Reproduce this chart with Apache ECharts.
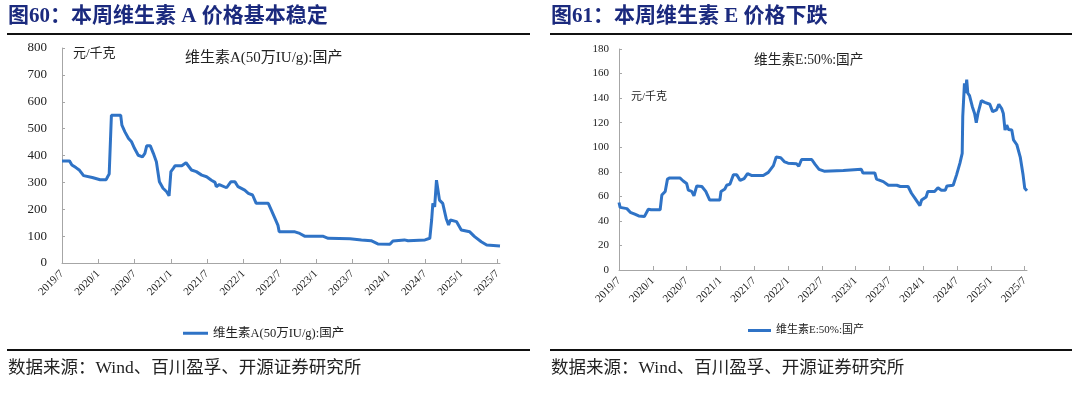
<!DOCTYPE html>
<html>
<head>
<meta charset="utf-8">
<script src="https://cdn.jsdelivr.net/npm/echarts@6/dist/echarts.min.js"></script>
<style>
html,body{margin:0;padding:0;background:#fff;}
#c{width:1080px;height:396px;}
</style>
</head>
<body>
<div id="c"></div>
<script>
// ---- Data ----
const titleA = '图60：本周维生素 A 价格基本稳定';
const titleE = '图61：本周维生素 E 价格下跌';
const seriesNameA = '维生素A(50万IU/g):国产';
const seriesNameE = '维生素E:50%:国产';
const unitLabel = '元/千克';
const sourceText = '数据来源：Wind、百川盈孚、开源证券研究所';
const xTickLabels = ['2019/7','2020/1','2020/7','2021/1','2021/7','2022/1','2022/7','2023/1','2023/7','2024/1','2024/7','2025/1','2025/7'];

const vaDates = ['2019-07-01','2019-08-08','2019-08-20','2019-09-10','2019-09-28','2019-10-18','2019-10-25','2019-12-01','2020-01-10','2020-02-10','2020-02-18','2020-02-25','2020-03-03','2020-03-06','2020-04-22','2020-04-28','2020-05-13','2020-06-01','2020-06-16','2020-07-01','2020-07-19','2020-08-10','2020-08-22','2020-09-01','2020-09-19','2020-10-04','2020-10-19','2020-11-04','2020-11-22','2020-12-10','2020-12-22','2021-01-01','2021-01-13','2021-01-22','2021-02-25','2021-03-16','2021-03-25','2021-04-13','2021-05-07','2021-06-04','2021-06-28','2021-07-22','2021-08-10','2021-08-16','2021-09-01','2021-10-07','2021-10-28','2021-11-19','2021-12-04','2022-01-07','2022-01-25','2022-02-16','2022-03-04','2022-05-04','2022-05-19','2022-06-07','2022-06-22','2022-06-28','2022-09-16','2022-10-10','2022-11-04','2023-02-04','2023-03-01','2023-06-19','2023-08-16','2023-10-04','2023-11-07','2024-01-07','2024-01-22','2024-03-19','2024-04-07','2024-07-01','2024-07-25','2024-08-04','2024-08-10','2024-08-19','2024-08-28','2024-09-04','2024-09-13','2024-09-29','2024-10-16','2024-10-28','2024-11-07','2024-12-07','2025-01-01','2025-02-13','2025-03-07','2025-04-10','2025-05-07','2025-07-13'];
const vaValues = [380,380,365,355,345,325,322,318,310,310,322,331,331,550,550,513,488,463,451,426,401,395,408,436,436,408,377,302,278,265,250,340,352,362,362,373,370,346,340,327,321,308,300,284,292,280,302,302,284,271,259,253,222,222,197,166,140,116,116,110,100,100,92,90,86,83,71,70,82,86,83,86,92,160,222,209,308,278,234,222,166,141,160,154,123,116,98,79,67,63];

const veDates = ['2019-07-01','2019-07-07','2019-08-13','2019-09-01','2019-09-25','2019-10-16','2019-11-16','2019-12-07','2019-12-22','2020-02-10','2020-02-19','2020-03-07','2020-03-19','2020-04-01','2020-05-25','2020-06-13','2020-07-01','2020-07-10','2020-07-28','2020-08-10','2020-08-25','2020-09-22','2020-10-13','2020-11-04','2020-12-28','2021-01-04','2021-01-25','2021-02-04','2021-02-22','2021-03-10','2021-03-28','2021-04-16','2021-05-07','2021-05-25','2021-06-16','2021-08-19','2021-09-16','2021-10-13','2021-10-28','2021-11-22','2021-12-13','2022-01-01','2022-02-16','2022-02-28','2022-03-13','2022-05-07','2022-05-25','2022-06-16','2022-07-13','2022-10-25','2022-11-04','2023-02-01','2023-02-10','2023-04-13','2023-04-22','2023-05-28','2023-06-25','2023-07-04','2023-08-10','2023-08-28','2023-10-10','2023-10-28','2023-11-16','2023-12-04','2023-12-13','2023-12-22','2024-01-16','2024-01-25','2024-03-01','2024-03-19','2024-04-07','2024-04-28','2024-05-07','2024-06-10','2024-06-28','2024-07-16','2024-07-28','2024-08-01','2024-08-10','2024-08-16','2024-08-22','2024-08-28','2024-09-07','2024-09-22','2024-10-04','2024-10-13','2024-10-22','2024-11-10','2024-11-28','2024-12-25','2025-01-10','2025-02-01','2025-02-13','2025-02-28','2025-03-07','2025-03-16','2025-03-25','2025-04-04','2025-04-22','2025-05-01','2025-05-19','2025-06-07','2025-06-22','2025-07-01','2025-07-13'];
const veValues = [55,51,50,47,45.5,44,43.5,49.5,49,49,61,64,74,75,75,72.5,70.5,65,64,60.5,68.5,68,64,57,57,64,66,69,70,77.5,77.5,73,74.5,78.5,77,77,79.5,85,92,91.5,88,87,86.5,84.5,90,90,86,82,80.5,81,82,82,79,79,74,72,69,68,69,68,68,62.5,58.5,54.5,52.5,57,59.5,64,64,67,65,65,68.5,69,77.5,87,95,125,152,144,155,144,142,133,127.5,120,127.5,138,136.5,135,129,130.5,135,131.5,127.5,114,118,114.5,114,106,102,92,77.5,66.5,64.5];

// ---- helpers ----
function monthOffset(s) {
  const p = s.split('-').map(Number);
  return (p[0] - 2019) * 12 + (p[1] - 7) + (p[2] - 1) / 30;
}
const tickVals = xTickLabels.map((_, i) => i * 6);
function xLabel(v) {
  const i = Math.round(v / 6);
  return (Math.abs(v - i * 6) < 1e-6 && xTickLabels[i]) ? xTickLabels[i] : '';
}
const serif = '"Liberation Serif","Noto Sans CJK SC",serif';
const axisGrey = '#A6A6A6';
const lineBlue = '#2F73C6';
const txt = '#222';

function mkX(gridIndex, fs, margin) {
  return {
    type: 'value', gridIndex: gridIndex, min: 0, max: 72.4, interval: 6,
    axisLine: {show: true, lineStyle: {color: axisGrey, width: 1}},
    axisTick: {show: true, inside: true, length: 4, lineStyle: {color: axisGrey}, customValues: tickVals},
    axisLabel: {rotate: 45, fontFamily: serif, fontSize: fs, color: txt, margin: margin, formatter: xLabel, customValues: tickVals, showMaxLabel: true, showMinLabel: true},
    splitLine: {show: false}
  };
}
function mkY(gridIndex, max, interval, fs, margin) {
  return {
    type: 'value', gridIndex: gridIndex, min: 0, max: max, interval: interval,
    axisLine: {show: true, lineStyle: {color: axisGrey, width: 1}},
    axisTick: {show: true, inside: true, length: 3, lineStyle: {color: axisGrey}},
    axisLabel: {fontFamily: serif, fontSize: fs, color: txt, margin: margin},
    splitLine: {show: false}
  };
}

const chart = echarts.init(document.getElementById('c'), null, {renderer: 'canvas'});
chart.setOption({
  backgroundColor: '#fff',
  animation: false,
  grid: [
    {left: 62, right: 580, top: 48, bottom: 133},
    {left: 619, right: 53, top: 49, bottom: 126}
  ],
  xAxis: [mkX(0, 11, 9), mkX(1, 11, 9)],
  yAxis: [mkY(0, 800, 100, 13, 15), mkY(1, 180, 20, 11, 10)],
  legend: [
    {data: [seriesNameA], icon: 'rect', left: 178, top: 322, itemWidth: 25, itemHeight: 3, itemGap: 4,
     textStyle: {fontFamily: serif, fontSize: 12.5, color: txt}},
    {data: [seriesNameE], icon: 'rect', left: 743, top: 320, itemWidth: 23, itemHeight: 3, itemGap: 3,
     textStyle: {fontFamily: serif, fontSize: 11, color: txt}}
  ],
  series: [
    {name: seriesNameA, type: 'line', xAxisIndex: 0, yAxisIndex: 0, symbol: 'none', smooth: false,
     lineStyle: {color: lineBlue, width: 3}, itemStyle: {color: lineBlue},
     data: vaDates.map((d, i) => [monthOffset(d), vaValues[i]])},
    {name: seriesNameE, type: 'line', xAxisIndex: 1, yAxisIndex: 1, symbol: 'none', smooth: false,
     lineStyle: {color: lineBlue, width: 3}, itemStyle: {color: lineBlue},
     data: veDates.map((d, i) => [monthOffset(d), veValues[i]])}
  ],
  graphic: [
    {type: 'text', left: 8, top: 6, style: {text: titleA, font: 'bold 21px ' + serif, fill: '#1B2A7E'}},
    {type: 'text', left: 551, top: 6, style: {text: titleE, font: 'bold 21px ' + serif, fill: '#1B2A7E'}},
    {type: 'rect', shape: {x: 7, y: 33, width: 523, height: 2}, style: {fill: '#111'}},
    {type: 'rect', shape: {x: 550, y: 33, width: 522, height: 2}, style: {fill: '#111'}},
    {type: 'text', x: 73, y: 47, style: {text: unitLabel, font: '13px ' + serif, fill: txt}},
    {type: 'text', x: 631, y: 92, style: {text: unitLabel, font: '11px ' + serif, fill: txt}},
    {type: 'text', x: 185, y: 51, style: {text: seriesNameA, font: '15px ' + serif, fill: txt}},
    {type: 'text', x: 754, y: 54, style: {text: seriesNameE, font: '13.7px ' + serif, fill: txt}},
    {type: 'rect', shape: {x: 7, y: 349, width: 523, height: 2}, style: {fill: '#111'}},
    {type: 'rect', shape: {x: 550, y: 349, width: 522, height: 2}, style: {fill: '#111'}},
    {type: 'text', x: 8, y: 360, style: {text: sourceText, font: '17.5px ' + serif, fill: txt}},
    {type: 'text', x: 551, y: 360, style: {text: sourceText, font: '17.5px ' + serif, fill: txt}}
  ]
});
</script>
</body>
</html>
